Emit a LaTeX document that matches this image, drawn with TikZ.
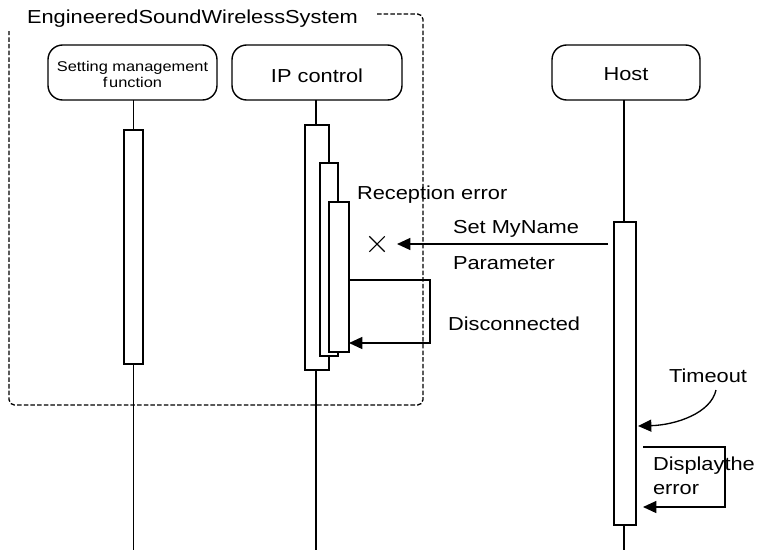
\documentclass[tikz,border=0pt]{standalone}
\usepackage{fontspec}
\setmainfont{Liberation Sans}[FakeStretch=1.16]
\usetikzlibrary{arrows.meta,shapes.misc}

\begin{document}
\begin{tikzpicture}[x=0.75pt,y=-0.75pt,
  every node/.style={inner sep=0pt, outer sep=0pt},
  big/.style={font=\fontsize{14.1pt}{16pt}\selectfont},
  small/.style={font=\fontsize{10.6pt}{12pt}\selectfont},
  headbox/.style={draw, line width=1.05pt, rounded corners=11pt, fill=white,
    minimum height=41.25pt, minimum width=#1},
  actbar/.style 2 args={draw, line width=1.05pt, fill=white, rectangle,
    minimum width=#1, minimum height=#2},
  life/.style={draw, line width=1pt},
  msg/.style={draw, line width=1pt, -{Triangle[length=10pt,width=9pt]}},
  sysframe/.style={draw, line width=1pt, dash pattern=on 3.4pt off 1.6pt,
    rounded corners=4pt}]

  \useasboundingbox (0,0) rectangle (762,550);

  % system boundary
  \draw[sysframe] (377,14) -- (423,14) -- (423,405) -- (9,405) -- (9,31);
  \node[big, anchor=base west] (title) at (27,23) {EngineeredSoundWirelessSystem};

  % lifeline heads
  \node[headbox=126.75pt] (smf) at (132.5,72.5) {};
  \node[headbox=127.5pt] (ipc) at (317,72.5) {};
  \node[headbox=111pt] (host) at (626,72.5) {};
  \node[small, anchor=base] (smfT1) at (132.5,71) {Setting management};
  \node[small, anchor=base] (smfT2) at (132.5,87) {f\hspace{0.12em}unction};
  \node[big, anchor=base] (ipcT) at (317,82) {IP control};
  \node[big, anchor=base] (hostT) at (626,80) {Host};

  % lifeline ends
  \coordinate (smfEnd) at (133.5,550);
  \coordinate (ipcEnd) at (316,550);
  \coordinate (hostEnd) at (624,550);

  % lifelines
  \draw[life] (smf.south -| smfEnd) -- (smfEnd);
  \draw[life] (ipc.south -| ipcEnd) -- (ipcEnd);
  \draw[life] (host.south -| hostEnd) -- (hostEnd);

  % activation bars
  \node[actbar={14.25pt}{175.5pt}] (smfA) at (133.5,247) {};
  \node[actbar={18pt}{183.75pt}] (ipA1) at (317,247.5) {};
  \node[actbar={13.5pt}{144.75pt}] (ipA2) at (329,259.5) {};
  \node[actbar={15pt}{112.5pt}] (ipA3) at (339,277) {};
  \node[actbar={16.5pt}{227.25pt}] (hostA) at (625,373.5) {};

  % lost message: Set MyName Parameter
  \coordinate (lostEnd) at (397,244);
  \coordinate (lostStart) at (608,244);
  \draw[msg] (lostStart) -- (lostEnd);
  \node[draw, cross out, line width=0.8pt, minimum size=11.5pt] (lostX) at (377,244) {};
  \node[big, anchor=base west] (recErr) at (357,199) {Reception error};
  \node[big, anchor=base west] (setName) at (453,233) {Set MyName};
  \node[big, anchor=base west] (param) at (453,269) {Parameter};

  % self call: Disconnected
  \coordinate (discA) at (430,280);
  \coordinate (discB) at (430,343);
  \draw[msg] (ipA3.east |- discA) -- (discA) -- (discB) -- (ipA3.east |- discB);
  \node[big, anchor=base west] (disc) at (448,330) {Disconnected};

  % timeout
  \coordinate (toStart) at (716,390);
  \coordinate (toEnd) at (638,426);
  \draw[msg] (toStart) .. controls (711,413) and (676,425) .. (toEnd);
  \node[big, anchor=base west] (timeout) at (669,382) {Timeout};

  % self call: display the error
  \coordinate (dispA) at (643,447);
  \coordinate (dispB) at (725,447);
  \coordinate (dispC) at (725,507);
  \coordinate (dispD) at (643,507);
  \draw[msg] (dispA) -- (dispB) -- (dispC) -- (dispD);
  \node[big, anchor=base west] (dispT1) at (653,470) {Displaythe};
  \node[big, anchor=base west] (dispT2) at (653,494) {error};
\end{tikzpicture}
\end{document}
